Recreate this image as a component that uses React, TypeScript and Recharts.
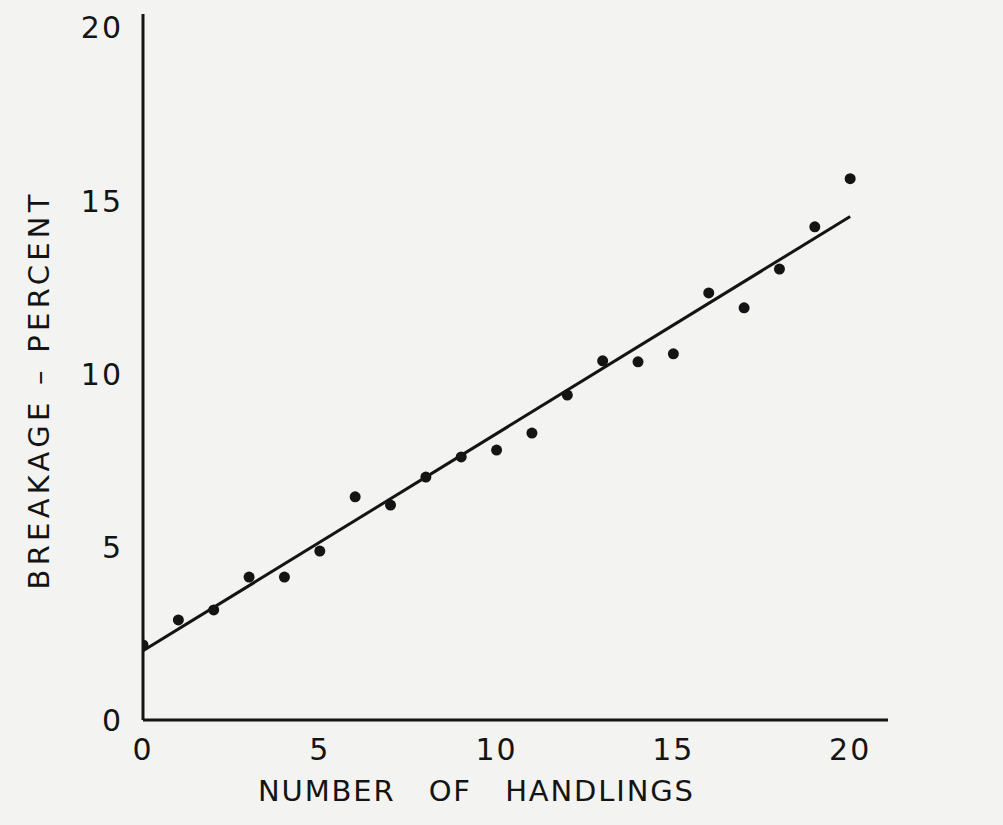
import React from "react";
import { ScatterChart, Scatter, XAxis, YAxis } from "recharts";

const handlings = [0, 1, 2, 3, 4, 5, 6, 7, 8, 9, 10, 11, 12, 13, 14, 15, 16, 17, 18, 19, 20];
const breakage = [2.17, 2.89, 3.18, 4.13, 4.13, 4.88, 6.45, 6.21, 7.02, 7.6, 7.8, 8.29, 9.39, 10.38, 10.35, 10.58, 12.34, 11.91, 13.03, 14.25, 15.64];
const fitX = [0, 20];
const fitY = [2.0, 14.55];
const xTicks = [0, 5, 10, 15, 20];
const yTicks = [0, 5, 10, 15, 20];
const xTitle = "NUMBER   OF   HANDLINGS";
const yTitle = "BREAKAGE – PERCENT";

const points = handlings.map((x, i) => ({ x, y: breakage[i] }));
const fit = fitX.map((x, i) => ({ x, y: fitY[i] }));

const FONT = "'DejaVu Sans', sans-serif";
const INK = "#141414";

const Dot = (props: any) => {
  const { cx, cy } = props;
  if (cx == null || cy == null) return null;
  return <circle cx={cx} cy={cy} r={5.5} fill={INK} />;
};
const NoDot = () => null;

export default function App() {
  return (
    <div style={{ position: "absolute", left: 0, top: 0, width: 1003, height: 825, background: "#f3f3f1" }}>
      <ScatterChart width={1003} height={825} margin={{ top: 14, right: 115, bottom: 75, left: 43 }}>
        <XAxis
          type="number"
          dataKey="x"
          domain={[0, 21.07]}
          ticks={xTicks}
          allowDataOverflow
          height={30}
          axisLine={{ stroke: INK, strokeWidth: 3 }}
          tickLine={false}
          tickSize={0}
          tickMargin={19}
          tick={{ fill: INK, fontSize: 30, fontFamily: FONT, letterSpacing: 2 }}
          label={{
            content: (p: any) => {
              const vb = p.viewBox;
              return (
                <text
                  x={vb.x + vb.width / 2 - 40}
                  y={801}
                  textAnchor="middle"
                  fill={INK}
                  fontSize={29}
                  fontFamily={FONT}
                  textLength={435}
                  lengthAdjust="spacing"
                  style={{ whiteSpace: "pre" }}
                >
                  {xTitle}
                </text>
              );
            },
          }}
        />
        <YAxis
          type="number"
          dataKey="y"
          domain={[0, 20.4]}
          ticks={yTicks}
          allowDataOverflow
          width={100}
          axisLine={{ stroke: INK, strokeWidth: 3 }}
          tickLine={false}
          tickSize={0}
          tickMargin={20}
          tick={{ fill: INK, fontSize: 30, fontFamily: FONT, letterSpacing: 2 }}
          label={{
            content: (p: any) => {
              const vb = p.viewBox;
              const cx = 49;
              const cy = vb.y + vb.height / 2 + 25;
              return (
                <text
                  x={cx}
                  y={cy}
                  transform={`rotate(-90 ${cx} ${cy})`}
                  textAnchor="middle"
                  fill={INK}
                  fontSize={29}
                  fontFamily={FONT}
                  textLength={395}
                  lengthAdjust="spacing"
                >
                  {yTitle}
                </text>
              );
            },
          }}
        />
        <Scatter
          data={fit}
          shape={NoDot}
          line={{ stroke: INK, strokeWidth: 3 }}
          isAnimationActive={false}
        />
        <Scatter data={points} shape={Dot} isAnimationActive={false} />
      </ScatterChart>
    </div>
  );
}
